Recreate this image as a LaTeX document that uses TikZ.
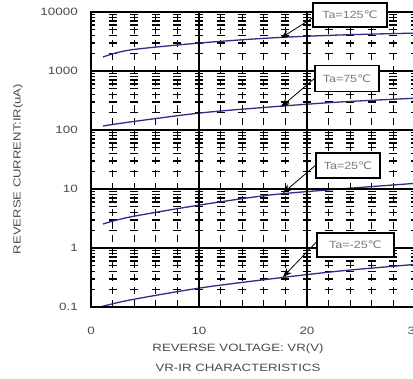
\documentclass[tikz,border=0pt]{standalone}
\usepackage{fontspec}
\setmainfont{Liberation Sans}
\newfontfamily\dejavu{DejaVu Sans}
\usetikzlibrary{arrows.meta}
\definecolor{curvecol}{HTML}{2E2E86}
\definecolor{txt}{HTML}{4A4A4A}
\definecolor{lbl}{HTML}{7A7A7A}
\tikzset{
  minorh/.style={line width=1.4pt,dash pattern=on 8pt off 13.6pt},
  minorv/.style={line width=1.1pt,dash pattern=on 7pt off 6pt},
  major/.style={line width=1.4pt},
  curve/.style={curvecol,line width=1.3pt},
  tlabel/.style={font=\fontsize{10.6}{12}\selectfont,text=txt,inner sep=0pt},
  talabel/.style={draw=black,fill=white,line width=1.3pt,font=\fontsize{10.4}{12}\selectfont,text=lbl,inner sep=1pt},
  pointer/.style={line width=0.8pt,-{Stealth[length=9pt,width=7pt]}},
}
\newcommand{\wide}[1]{\scalebox{1.27}[1]{#1}}
\newcommand{\degc}{{\dejavu ℃}}
\begin{document}
\begin{tikzpicture}[x=1pt,y=-1pt]
\useasboundingbox (0,0) rectangle (413,379);
\fill[white] (0,0) rectangle (413,379);
\begin{scope}
\clip (91,12) rectangle (413,307);
\foreach \d in {0,...,4}{
  \foreach \k in {2,...,9}{
    \draw[minorh] (87,{307-59*\d-59*log10(\k)}) -- (420,{307-59*\d-59*log10(\k)});
  }
}
\foreach \v in {2,4,6,8,12,14,16,18,22,24,26,28}{
  \draw[minorv] ({91+10.8*\v},307) -- ({91+10.8*\v},12);
}
% curves
\draw[curve] plot[smooth] coordinates {(103,57) (130,50) (200,43) (270,38) (340,35) (420,33)};
\draw[curve] plot[smooth] coordinates {(103,126) (130,122) (200,113) (270,107) (340,102) (420,98)};
\draw[curve] plot[smooth] coordinates {(103,224) (130,217) (200,205) (270,195) (340,189) (420,183)};
\draw[curve] plot[smooth] coordinates {(100,307) (130,300) (200,288) (270,279) (340,271) (420,264)};
\end{scope}
% major lines
\foreach \d in {1,...,4}{
  \draw[major] (91,{307-59*\d}) -- (413,{307-59*\d});
}
\draw[major] (199,12) -- (199,307);
\draw[major] (307,12) -- (307,307);
\draw[major] (413,12) -- (91,12) -- (91,307) -- (413,307);
% y tick labels
\node[tlabel,anchor=east] (y4) at (78,12) {\wide{10000}};
\node[tlabel,anchor=east] (y3) at (78,71) {\wide{1000}};
\node[tlabel,anchor=east] (y2) at (78,130) {\wide{100}};
\node[tlabel,anchor=east] (y1) at (78,189) {\wide{10}};
\node[tlabel,anchor=east] (y0) at (78,248) {\wide{1}};
\node[tlabel,anchor=east] (ym) at (78,307) {\wide{0.1}};
% x tick labels
\node[tlabel] (x0) at (91,331) {\wide{0}};
\node[tlabel] (x10) at (199,331) {\wide{10}};
\node[tlabel] (x20) at (307,331) {\wide{20}};
\begin{scope}
\clip (0,0) rectangle (413,379);
\node[tlabel] (x30) at (415,331) {\wide{30}};
\end{scope}
% titles
\node[tlabel] (xt) at (238,349) {\scalebox{1.25}[1]{REVERSE VOLTAGE: VR(V)}};
\node[tlabel] (ct) at (238,368) {\scalebox{1.25}[1]{VR-IR CHARACTERISTICS}};
\node[tlabel,font=\fontsize{10.3}{12}\selectfont,rotate=90] (yt) at (18,169) {\scalebox{1.27}[1]{REVERSE CURRENT:IR(uA)}};
% Ta labels
\node[talabel,minimum width=74pt,minimum height=24pt] (t125) at (350,15) {\scalebox{1.2}[1]{Ta=125\degc}};
\node[talabel,minimum width=64pt,minimum height=26pt] (t75) at (347,78.5) {\scalebox{1.2}[1]{Ta=75\degc}};
\node[talabel,minimum width=64pt,minimum height=25pt] (t25) at (348,165.5) {\scalebox{1.2}[1]{Ta=25\degc}};
\node[talabel,minimum width=77pt,minimum height=24pt] (tm25) at (355.5,245) {\scalebox{1.2}[1]{Ta=-25\degc}};
\coordinate (p125) at (281,38);
\coordinate (p75) at (281,107);
\coordinate (p25) at (283,193);
\coordinate (pm25) at (283,277);
\draw[pointer] ([yshift=-3pt]t125.west) -- (p125);
\draw[pointer] (t75.west) -- (p75);
\draw[pointer] (t25.west) -- (p25);
\draw[pointer] ([yshift=3pt]tm25.west) -- (pm25);
\end{tikzpicture}
\end{document}
